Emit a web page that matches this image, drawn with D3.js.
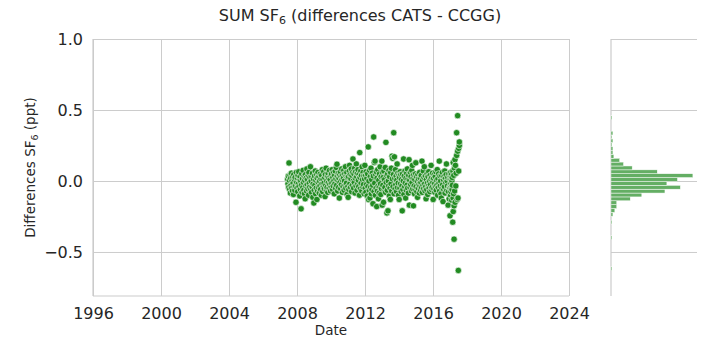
<!DOCTYPE html>
<html><head><meta charset="utf-8">
<script src="https://cdn.jsdelivr.net/npm/d3@7"></script>
<style>
body{margin:0;background:#fff;}
text{font-family:"DejaVu Sans",sans-serif;fill:#262626;}
</style>
</head><body>
<svg id="chart" width="720" height="360"></svg>
<script>
// [decimal year, difference CATS - CCGG (ppt)]
const obs2007 = [[2007.45,0.012],[2007.47,-0.02],[2007.49,0.035],[2007.51,-0.045],[2007.53,0.127],[2007.55,0.005],[2007.57,-0.06],[2007.59,0.04],[2007.61,-0.085],[2007.63,0.02],[2007.65,-0.03],[2007.67,0.055],[2007.69,-0.05],[2007.71,0.0],[2007.73,-0.07],[2007.75,0.03],[2007.77,-0.015],[2007.79,-0.095],[2007.81,0.045],[2007.83,-0.04],[2007.85,0.01],[2007.87,-0.065],[2007.89,0.025],[2007.91,-0.035],[2007.94,-0.15],[2007.96,0.06],[2007.98,-0.01]];
const obs2008 = [[2008.00,-0.05],[2008.02,0.02],[2008.04,-0.075],[2008.06,0.04],[2008.08,-0.02],[2008.10,0.065],[2008.12,-0.04],[2008.14,0.01],[2008.16,-0.105],[2008.18,0.03],[2008.20,-0.06],[2008.22,0.0],[2008.24,-0.196],[2008.26,-0.03],[2008.28,0.05],[2008.30,-0.08],[2008.32,0.015],[2008.34,-0.045],[2008.36,0.075],[2008.38,-0.01],[2008.40,-0.065],[2008.42,0.035],[2008.44,-0.09],[2008.46,0.005],[2008.48,-0.125],[2008.50,0.045],[2008.52,-0.035],[2008.54,0.02],[2008.56,-0.07],[2008.58,0.085],[2008.60,-0.025],[2008.62,0.01],[2008.64,-0.055],[2008.66,0.04],[2008.68,-0.1],[2008.70,0.06],[2008.72,-0.015],[2008.74,-0.045],[2008.76,0.025],[2008.79,0.1],[2008.81,-0.06],[2008.83,0.0],[2008.85,-0.08],[2008.87,0.03],[2008.89,-0.04],[2008.91,0.055],[2008.93,-0.115],[2008.95,-0.02],[2008.97,0.015],[2008.99,-0.155]];
const obs2009 = [[2009.01,-0.065],[2009.03,0.035],[2009.05,-0.03],[2009.07,0.07],[2009.09,-0.09],[2009.11,0.005],[2009.13,-0.05],[2009.15,0.045],[2009.17,-0.13],[2009.19,0.02],[2009.21,-0.07],[2009.23,0.06],[2009.25,-0.01],[2009.27,-0.045],[2009.29,0.03],[2009.31,-0.085],[2009.33,0.0],[2009.35,-0.035],[2009.37,0.05],[2009.39,-0.06],[2009.41,0.015],[2009.43,-0.1],[2009.45,0.04],[2009.47,-0.02],[2009.49,0.08],[2009.51,-0.075],[2009.53,0.01],[2009.55,-0.04],[2009.57,0.065],[2009.59,-0.015],[2009.61,-0.055],[2009.63,0.025],[2009.65,-0.11],[2009.67,0.045],[2009.69,-0.03],[2009.71,0.09],[2009.73,-0.065],[2009.75,0.0],[2009.77,-0.045],[2009.79,0.035],[2009.81,-0.08],[2009.83,0.055],[2009.85,-0.01],[2009.87,0.02],[2009.89,-0.05],[2009.91,0.075],[2009.93,-0.025],[2009.95,0.01],[2009.97,-0.07],[2009.99,0.04]];
const obs2010 = [[2010.01,-0.04],[2010.03,0.05],[2010.05,-0.015],[2010.07,0.08],[2010.09,-0.06],[2010.11,0.025],[2010.13,-0.035],[2010.15,0.06],[2010.17,0.0],[2010.19,-0.09],[2010.21,0.04],[2010.23,-0.02],[2010.25,0.07],[2010.27,-0.05],[2010.29,0.015],[2010.31,0.095],[2010.33,-0.03],[2010.35,0.118],[2010.37,0.035],[2010.39,-0.07],[2010.41,0.005],[2010.43,0.055],[2010.45,-0.045],[2010.47,0.02],[2010.49,-0.12],[2010.51,0.045],[2010.53,-0.01],[2010.55,0.065],[2010.57,-0.055],[2010.59,0.03],[2010.61,-0.025],[2010.63,0.085],[2010.65,0.01],[2010.67,-0.08],[2010.69,0.04],[2010.71,-0.04],[2010.73,0.02],[2010.75,0.075],[2010.77,-0.065],[2010.79,0.0],[2010.81,0.05],[2010.83,-0.03],[2010.85,0.1],[2010.87,-0.05],[2010.89,0.035],[2010.91,-0.015],[2010.93,0.06],[2010.95,-0.095],[2010.97,0.025],[2010.99,-0.04]];
const obs2011 = [[2011.01,-0.115],[2011.03,0.03],[2011.05,-0.06],[2011.07,0.07],[2011.09,0.11],[2011.11,-0.02],[2011.13,0.045],[2011.15,-0.045],[2011.17,0.015],[2011.19,0.085],[2011.21,-0.075],[2011.23,0.04],[2011.25,-0.03],[2011.27,0.06],[2011.29,0.155],[2011.31,0.0],[2011.33,-0.05],[2011.35,0.05],[2011.37,-0.01],[2011.39,0.09],[2011.41,-0.085],[2011.43,0.02],[2011.45,0.065],[2011.47,-0.035],[2011.49,0.12],[2011.51,0.03],[2011.53,-0.065],[2011.55,0.055],[2011.57,-0.02],[2011.59,0.08],[2011.61,0.005],[2011.63,-0.04],[2011.65,0.045],[2011.67,-0.1],[2011.69,0.2],[2011.71,0.025],[2011.73,-0.055],[2011.75,0.07],[2011.77,-0.015],[2011.79,0.04],[2011.81,-0.07],[2011.83,0.1],[2011.85,0.01],[2011.87,-0.04],[2011.89,0.06],[2011.91,-0.025],[2011.93,0.035],[2011.95,-0.09],[2011.97,0.015],[2011.99,0.11]];
const obs2012 = [[2012.01,-0.05],[2012.03,0.04],[2012.05,-0.08],[2012.07,0.065],[2012.09,-0.025],[2012.11,0.02],[2012.13,-0.105],[2012.15,0.05],[2012.17,-0.04],[2012.19,0.24],[2012.21,-0.13],[2012.23,0.0],[2012.25,-0.065],[2012.27,0.075],[2012.29,-0.12],[2012.31,0.03],[2012.33,-0.045],[2012.35,0.09],[2012.37,-0.09],[2012.39,0.01],[2012.41,-0.06],[2012.43,0.055],[2012.45,-0.03],[2012.47,-0.16],[2012.49,0.035],[2012.51,0.31],[2012.53,-0.075],[2012.55,0.13],[2012.57,-0.015],[2012.59,0.14],[2012.61,-0.1],[2012.63,0.045],[2012.65,-0.05],[2012.67,0.065],[2012.69,-0.18],[2012.71,0.02],[2012.73,-0.07],[2012.75,0.08],[2012.77,-0.035],[2012.79,-0.125],[2012.81,0.005],[2012.83,-0.085],[2012.85,0.05],[2012.87,-0.04],[2012.89,0.1],[2012.91,-0.02],[2012.93,-0.095],[2012.95,0.03],[2012.97,-0.055],[2012.99,0.14]];
const obs2013 = [[2013.01,-0.17],[2013.03,0.06],[2013.05,-0.03],[2013.07,0.025],[2013.09,-0.15],[2013.11,0.07],[2013.13,-0.06],[2013.15,0.01],[2013.17,-0.045],[2013.19,0.095],[2013.21,-0.08],[2013.23,0.272],[2013.25,-0.01],[2013.27,0.04],[2013.29,-0.225],[2013.31,-0.065],[2013.33,0.05],[2013.35,-0.21],[2013.37,0.0],[2013.39,-0.035],[2013.41,0.075],[2013.43,-0.105],[2013.45,0.03],[2013.47,-0.05],[2013.49,-0.13],[2013.51,0.06],[2013.53,-0.02],[2013.55,0.09],[2013.57,-0.07],[2013.59,0.175],[2013.61,0.015],[2013.63,0.16],[2013.65,-0.04],[2013.67,0.045],[2013.69,0.34],[2013.71,-0.09],[2013.73,0.17],[2013.75,0.02],[2013.77,-0.055],[2013.79,0.08],[2013.81,-0.025],[2013.83,0.035],[2013.85,-0.075],[2013.87,0.005],[2013.89,0.12],[2013.91,-0.045],[2013.93,0.055],[2013.95,-0.015],[2013.97,-0.1],[2013.99,0.04]];
const obs2014 = [[2014.01,-0.13],[2014.03,0.025],[2014.05,-0.05],[2014.07,0.065],[2014.09,-0.02],[2014.11,0.045],[2014.13,-0.075],[2014.15,0.01],[2014.17,-0.035],[2014.19,-0.21],[2014.21,0.05],[2014.23,-0.06],[2014.25,0.0],[2014.27,0.155],[2014.29,-0.095],[2014.31,0.035],[2014.33,-0.04],[2014.35,0.07],[2014.37,-0.015],[2014.39,-0.12],[2014.41,0.02],[2014.43,-0.065],[2014.45,0.055],[2014.47,-0.03],[2014.49,0.085],[2014.51,-0.05],[2014.53,0.015],[2014.55,-0.085],[2014.57,0.04],[2014.59,0.15],[2014.61,-0.17],[2014.63,0.005],[2014.65,-0.045],[2014.67,0.06],[2014.69,-0.025],[2014.71,0.03],[2014.73,-0.07],[2014.75,0.075],[2014.77,-0.01],[2014.79,0.11],[2014.81,-0.055],[2014.83,0.02],[2014.85,-0.175],[2014.87,0.045],[2014.89,-0.035],[2014.91,-0.09],[2014.93,0.01],[2014.95,-0.06],[2014.97,0.05],[2014.99,0.128]];
const obs2015 = [[2015.01,-0.04],[2015.03,0.03],[2015.05,-0.075],[2015.07,0.0],[2015.09,-0.115],[2015.11,0.045],[2015.13,-0.05],[2015.15,0.015],[2015.17,-0.025],[2015.19,-0.085],[2015.21,0.06],[2015.23,-0.035],[2015.25,0.02],[2015.27,-0.065],[2015.29,-0.01],[2015.31,0.04],[2015.33,-0.045],[2015.35,0.14],[2015.37,-0.08],[2015.39,0.005],[2015.41,-0.03],[2015.43,0.07],[2015.45,-0.055],[2015.47,0.025],[2015.49,0.1],[2015.51,-0.02],[2015.53,-0.07],[2015.55,0.035],[2015.57,-0.04],[2015.59,-0.125],[2015.61,0.01],[2015.63,-0.06],[2015.65,0.05],[2015.67,-0.015],[2015.69,-0.095],[2015.71,0.03],[2015.73,-0.035],[2015.75,0.065],[2015.77,-0.05],[2015.79,0.0],[2015.81,-0.075],[2015.83,0.04],[2015.85,-0.025],[2015.87,0.015],[2015.89,0.11],[2015.91,-0.06],[2015.93,0.025],[2015.95,-0.045],[2015.97,0.055],[2015.99,-0.01]];
const obs2016 = [[2016.01,-0.13],[2016.03,0.02],[2016.05,-0.055],[2016.07,0.045],[2016.09,-0.02],[2016.11,-0.08],[2016.13,0.03],[2016.15,-0.04],[2016.17,0.065],[2016.19,-0.065],[2016.21,0.005],[2016.23,-0.03],[2016.25,0.08],[2016.27,-0.1],[2016.29,0.015],[2016.31,-0.045],[2016.33,0.05],[2016.35,-0.015],[2016.37,0.14],[2016.39,-0.07],[2016.41,0.035],[2016.43,-0.035],[2016.45,0.0],[2016.47,-0.09],[2016.49,-0.12],[2016.51,0.04],[2016.53,-0.05],[2016.55,0.06],[2016.57,-0.025],[2016.59,-0.145],[2016.61,0.01],[2016.63,-0.06],[2016.65,0.03],[2016.67,-0.04],[2016.69,0.07],[2016.71,-0.085],[2016.73,0.02],[2016.75,-0.01],[2016.77,0.045],[2016.79,0.12],[2016.81,-0.065],[2016.83,0.0],[2016.85,-0.035],[2016.87,0.025],[2016.89,-0.17],[2016.91,-0.075],[2016.93,0.05],[2016.95,-0.125],[2016.97,-0.045],[2016.99,0.015]];
const obs2017 = [[2017.00,-0.245],[2017.01,-0.05],[2017.02,0.03],[2017.03,-0.1],[2017.04,0.06],[2017.05,-0.02],[2017.06,-0.075],[2017.07,0.01],[2017.08,-0.04],[2017.09,0.045],[2017.10,-0.135],[2017.11,0.0],[2017.12,-0.06],[2017.13,0.025],[2017.14,-0.03],[2017.16,-0.29],[2017.17,0.07],[2017.18,-0.12],[2017.19,0.13],[2017.19,-0.215],[2017.21,-0.09],[2017.22,0.04],[2017.24,-0.41],[2017.24,-0.175],[2017.26,0.09],[2017.27,-0.07],[2017.29,0.15],[2017.30,-0.15],[2017.32,0.11],[2017.34,-0.035],[2017.36,0.055],[2017.39,0.18],[2017.39,0.34],[2017.42,-0.13],[2017.45,0.21],[2017.45,0.46],[2017.47,-0.12],[2017.49,-0.63],[2017.51,0.23],[2017.51,0.07],[2017.55,0.25],[2017.55,0.275]];

const xTicks = [1996, 2000, 2004, 2008, 2012, 2016, 2020, 2024];
const yTicks = [1.0, 0.5, 0.0, -0.5];

const data = [].concat(obs2007, obs2008, obs2009, obs2010, obs2011, obs2012,
  obs2013, obs2014, obs2015, obs2016, obs2017).map(d => ({date: d[0], diff: d[1]}));

const svg = d3.select("#chart");
const L = 93, R = 569, T = 39, B = 296;
const HL = 611, HR = 697;
const x = d3.scaleLinear().domain([1996, 2024]).range([L, R]);
const y = d3.scaleLinear().domain([-0.81, 1.0]).range([B, T]);
const grid = "#cccccc";

// ---- main axes grid ----
const gx = svg.append("g").attr("transform", `translate(0,${B})`)
  .call(d3.axisBottom(x).tickValues(xTicks).tickFormat(d3.format("d"))
    .tickSize(-(B - T)).tickPadding(11.5));
gx.select(".domain").remove();
gx.selectAll(".tick line").attr("stroke", grid).attr("stroke-width", 1);
gx.selectAll(".tick text").attr("font-size", 16).attr("fill", "#262626")
  .style("font-family", "DejaVu Sans");

const gy = svg.append("g").attr("transform", `translate(${L},0)`)
  .call(d3.axisLeft(y).tickValues(yTicks).tickFormat(d3.format(".1f"))
    .tickSize(-(R - L)).tickPadding(10));
gy.select(".domain").remove();
gy.selectAll(".tick line").attr("stroke", grid).attr("stroke-width", 1);
gy.selectAll(".tick text").attr("font-size", 16).attr("fill", "#262626")
  .style("font-family", "DejaVu Sans");

// spines (left & bottom)
svg.append("line").attr("x1", L).attr("x2", L).attr("y1", T).attr("y2", B)
  .attr("stroke", grid).attr("stroke-width", 1.2);
svg.append("line").attr("x1", L).attr("x2", R).attr("y1", B).attr("y2", B)
  .attr("stroke", grid).attr("stroke-width", 1.2);

// ---- marginal histogram axes ----
const hy = svg.append("g").attr("transform", `translate(${HL},0)`)
  .call(d3.axisLeft(y).tickValues(yTicks).tickFormat("").tickSize(-(HR - HL)));
hy.select(".domain").remove();
hy.selectAll(".tick line").attr("stroke", grid).attr("stroke-width", 1);
svg.append("line").attr("x1", HL).attr("x2", HL).attr("y1", T).attr("y2", B)
  .attr("stroke", grid).attr("stroke-width", 1.2);

const ext = d3.extent(data, d => d.diff);
const nb = 40;
const thresholds = d3.range(1, nb).map(i => ext[0] + i * (ext[1] - ext[0]) / nb);
const bins = d3.bin().value(d => d.diff).domain(ext).thresholds(thresholds)(data);
const hx = d3.scaleLinear().domain([0, d3.max(bins, b => b.length) * 1.05]).range([HL, HR]);

svg.append("g").selectAll("rect").data(bins.filter(b => b.length > 0)).join("rect")
  .attr("x", HL)
  .attr("y", b => y(b.x1))
  .attr("width", b => hx(b.length) - HL)
  .attr("height", b => Math.max(0, y(b.x0) - y(b.x1)))
  .attr("fill", "#228B22").attr("fill-opacity", 0.7)
  .attr("stroke", "#ffffff").attr("stroke-width", 0.5);

// ---- scatter ----
svg.append("g").selectAll("circle").data(data).join("circle")
  .attr("cx", d => x(d.date))
  .attr("cy", d => y(d.diff))
  .attr("r", 3.2)
  .attr("fill", "#228B22")
  .attr("stroke", "#ffffff").attr("stroke-width", 0.6);

// ---- labels ----
const title = svg.append("text").attr("x", 360).attr("y", 21)
  .attr("text-anchor", "middle").attr("font-size", 16);
title.append("tspan").text("SUM SF");
title.append("tspan").attr("font-size", 11).attr("dy", 3).text("6");
title.append("tspan").attr("dy", -3).text(" (differences CATS - CCGG)");

svg.append("text").attr("x", (L + R) / 2).attr("y", 335)
  .attr("text-anchor", "middle").attr("font-size", 13.5).text("Date");

const yl = svg.append("text").attr("transform", `translate(35,${(T + B) / 2}) rotate(-90)`)
  .attr("text-anchor", "middle").attr("font-size", 13.5);
yl.append("tspan").text("Differences SF");
yl.append("tspan").attr("font-size", 9.5).attr("dy", 3).text("6");
yl.append("tspan").attr("dy", -3).text(" (ppt)");
</script>
</body></html>
